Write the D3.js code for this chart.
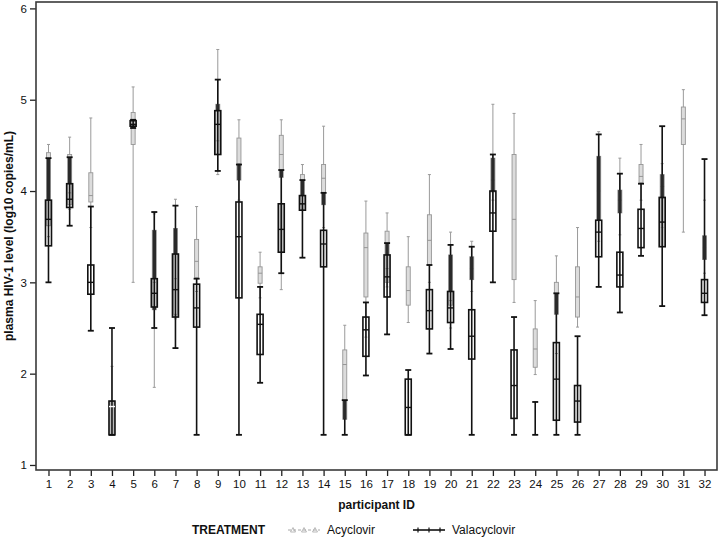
<!DOCTYPE html>
<html>
<head>
<meta charset="utf-8">
<script src="https://cdn.jsdelivr.net/npm/d3@7"></script>
<style>
  body { margin: 0; background: #fff; }
  svg { font-family: "Liberation Sans", Arial, sans-serif; }
</style>
</head>
<body>
<div class="chart"></div>
<script>
// participant ids
var ids = d3.range(1, 33);

// Acyclovir box stats (log10 copies/mL)
var acyMin = [3.5, 3.8, 3.6, 1.33, 3.0, 1.85, 2.6, 2.9, 4.18, 3.9, 2.83, 2.92, 3.8, 3.6, 1.5, 2.4,
              2.95, 2.56, 3.0, 2.5, 2.9, 3.9, 2.78, 1.99, 2.22, 2.51, 3.45, 3.52, 3.9, 3.6, 3.55, 3.1];
var acyQ1  = [3.62, 3.85, 3.88, 1.33, 4.51, 2.7, 2.65, 3.05, 4.4, 4.12, 2.99, 4.15, 3.85, 3.85, 1.5, 2.84,
              3.0, 2.75, 3.19, 2.75, 3.03, 3.99, 3.03, 2.07, 2.65, 2.62, 3.68, 3.76, 4.09, 3.92, 4.51, 3.25];
var acyMed = [4.0, 3.98, 3.95, 1.64, 4.73, 3.0, 3.04, 3.23, 4.55, 4.3, 3.1, 4.4, 3.95, 4.14, 2.1, 3.38,
              3.15, 2.91, 3.46, 2.8, 3.15, 4.12, 3.69, 2.27, 2.85, 2.84, 4.0, 3.9, 4.16, 4.05, 4.79, 3.38];
var acyQ3  = [4.42, 4.4, 4.2, 1.7, 4.86, 3.57, 3.59, 3.47, 4.95, 4.58, 3.17, 4.61, 4.18, 4.29, 2.26, 3.54,
              3.56, 3.17, 3.74, 3.3, 3.28, 4.36, 4.4, 2.49, 3.0, 3.17, 4.38, 4.01, 4.29, 4.18, 4.92, 3.51];
var acyMax = [4.51, 4.59, 4.8, 2.08, 5.14, 3.75, 3.91, 3.83, 5.55, 4.78, 3.33, 4.78, 4.29, 4.71, 2.53, 3.89,
              3.76, 3.5, 4.18, 3.55, 3.45, 4.95, 4.85, 2.8, 3.29, 3.6, 4.65, 4.36, 4.51, 4.3, 5.11, 3.9];

// Valacyclovir box stats (participant 31 has none)
var valMin = [3.0, 3.62, 2.47, 1.33, 4.69, 2.5, 2.28, 1.33, 4.22, 1.33, 1.9, 3.1, 3.27, 1.33, 1.33, 1.98,
              2.43, 1.33, 2.22, 2.27, 1.33, 3.0, 1.33, 1.33, 1.33, 1.33, 2.95, 2.67, 3.29, 2.74, null, 2.64];
var valQ1  = [3.4, 3.82, 2.87, 1.33, 4.71, 2.73, 2.62, 2.51, 4.4, 2.83, 2.21, 3.33, 3.79, 3.17, 1.33, 2.19,
              2.84, 1.33, 2.49, 2.56, 2.16, 3.56, 1.51, 1.33, 1.49, 1.47, 3.28, 2.95, 3.38, 3.39, null, 2.78];
var valMed = [3.69, 3.91, 3.0, 1.64, 4.73, 2.88, 2.92, 2.72, 4.73, 3.5, 2.54, 3.58, 3.86, 3.42, 1.33, 2.48,
              3.06, 1.63, 2.69, 2.72, 2.41, 3.76, 1.87, 1.33, 1.94, 1.7, 3.55, 3.08, 3.59, 3.66, null, 2.88];
var valQ3  = [3.9, 4.08, 3.19, 1.7, 4.77, 3.04, 3.31, 2.98, 4.88, 3.88, 2.65, 3.86, 3.95, 3.57, 1.33, 2.62,
              3.3, 1.94, 2.92, 2.9, 2.7, 4.0, 2.26, 1.33, 2.34, 1.87, 3.68, 3.33, 3.8, 3.93, null, 3.03];
var valMax = [4.36, 4.37, 3.83, 2.5, 4.78, 3.77, 3.84, 3.04, 5.22, 4.29, 2.95, 4.23, 4.12, 3.98, 1.71, 2.78,
              3.43, 2.04, 3.19, 3.41, 3.39, 4.4, 2.62, 1.69, 2.88, 2.41, 4.62, 4.19, 4.08, 4.71, null, 4.35];

// participants whose Valacyclovir box is shaded
var shadedIds = [4, 6, 7, 12, 13, 30];

var yTicks = [1, 2, 3, 4, 5, 6];
var treatments = ["Acyclovir", "Valacyclovir"];

var svgWidth = 720, svgHeight = 538;
var plot = {left: 36, right: 717, top: 2, bottom: 470};

var svg = d3.select(".chart").append("svg")
  .attr("width", svgWidth)
  .attr("height", svgHeight);

var x = d3.scalePoint().domain(ids).range([plot.left, plot.right]).padding(0.59);
var y = d3.scaleLinear().domain([0.945, 6.07]).range([plot.bottom, plot.top]);

function rows(mn, q1, md, q3, mx) {
  return ids.map(function(id, i) {
    return {id: id, min: mn[i], q1: q1[i], med: md[i], q3: q3[i], max: mx[i]};
  }).filter(function(d) { return d.min != null; });
}
var acy = rows(acyMin, acyQ1, acyMed, acyQ3, acyMax);
var val = rows(valMin, valQ1, valMed, valQ3, valMax);

var vw = 6, aw = 4;

// shaded Valacyclovir boxes
svg.append("g").selectAll("rect")
  .data(val.filter(function(d) { return shadedIds.indexOf(d.id) >= 0; }))
  .enter().append("rect")
  .attr("x", function(d) { return x(d.id) - vw / 2; })
  .attr("y", function(d) { return y(d.q3); })
  .attr("width", vw)
  .attr("height", function(d) { return Math.max(1, y(d.q1) - y(d.q3)); })
  .attr("fill", "#c4c4c4");

// Acyclovir: grey thin
var ga = svg.append("g");
ga.selectAll("line.wh").data(acy).enter().append("line")
  .attr("x1", function(d) { return x(d.id); }).attr("x2", function(d) { return x(d.id); })
  .attr("y1", function(d) { return y(d.min); }).attr("y2", function(d) { return y(d.max); })
  .attr("stroke", "#9a9a9a").attr("stroke-width", 1);
ga.selectAll("line.cap").data(acy.flatMap(function(d) { return [[d.id, d.min], [d.id, d.max]]; }))
  .enter().append("line")
  .attr("x1", function(d) { return x(d[0]) - 1.5; }).attr("x2", function(d) { return x(d[0]) + 1.5; })
  .attr("y1", function(d) { return y(d[1]); }).attr("y2", function(d) { return y(d[1]); })
  .attr("stroke", "#9a9a9a").attr("stroke-width", 1);
ga.selectAll("rect").data(acy).enter().append("rect")
  .attr("x", function(d) { return x(d.id) - aw / 2; })
  .attr("y", function(d) { return y(d.q3); })
  .attr("width", aw)
  .attr("height", function(d) { return Math.max(1, y(d.q1) - y(d.q3)); })
  .attr("fill", "#dcdcdc").attr("stroke", "#969696").attr("stroke-width", 0.9);
ga.selectAll("line.med").data(acy).enter().append("line")
  .attr("x1", function(d) { return x(d.id) - aw / 2; }).attr("x2", function(d) { return x(d.id) + aw / 2; })
  .attr("y1", function(d) { return y(d.med); }).attr("y2", function(d) { return y(d.med); })
  .attr("stroke", "#969696").attr("stroke-width", 1);

// Valacyclovir: black
var gv = svg.append("g");
gv.selectAll("line.wh").data(val).enter().append("line")
  .attr("x1", function(d) { return x(d.id); }).attr("x2", function(d) { return x(d.id); })
  .attr("y1", function(d) { return y(d.min); }).attr("y2", function(d) { return y(d.max); })
  .attr("stroke", "#111").attr("stroke-width", 1.6);

// where the whisker runs over the Acyclovir box it looks heavier
var overlaps = [];
val.forEach(function(d) {
  var a = acy.filter(function(e) { return e.id === d.id; })[0];
  if (!a) return;
  [[d.q3, d.max], [d.min, d.q1]].forEach(function(seg) {
    var lo = Math.max(seg[0], a.q1), hi = Math.min(seg[1], a.q3);
    if (hi > lo) overlaps.push({id: d.id, lo: lo, hi: hi});
  });
});
gv.selectAll("line.ov").data(overlaps).enter().append("line")
  .attr("x1", function(d) { return x(d.id); }).attr("x2", function(d) { return x(d.id); })
  .attr("y1", function(d) { return y(d.lo); }).attr("y2", function(d) { return y(d.hi); })
  .attr("stroke", "#2a2a2a").attr("stroke-width", 3.4);

gv.selectAll("line.cap").data(val.flatMap(function(d) { return [[d.id, d.min], [d.id, d.max]]; }))
  .enter().append("line")
  .attr("x1", function(d) { return x(d[0]) - 3; }).attr("x2", function(d) { return x(d[0]) + 3; })
  .attr("y1", function(d) { return y(d[1]); }).attr("y2", function(d) { return y(d[1]); })
  .attr("stroke", "#111").attr("stroke-width", 1.8);
gv.selectAll("rect").data(val.filter(function(d) { return d.q3 > d.q1; })).enter().append("rect")
  .attr("x", function(d) { return x(d.id) - vw / 2; })
  .attr("y", function(d) { return y(d.q3); })
  .attr("width", vw)
  .attr("height", function(d) { return y(d.q1) - y(d.q3); })
  .attr("fill", "none").attr("stroke", "#111").attr("stroke-width", 1.6);
gv.selectAll("line.med").data(val.filter(function(d) { return d.q3 > d.q1; })).enter().append("line")
  .attr("x1", function(d) { return x(d.id) - vw / 2; }).attr("x2", function(d) { return x(d.id) + vw / 2; })
  .attr("y1", function(d) { return y(d.med); }).attr("y2", function(d) { return y(d.med); })
  .attr("stroke", function(d) { return d.id === 4 ? "#fff" : "#111"; })
  .attr("stroke-width", 1.4);

// axes
var xAxis = svg.append("g")
  .attr("transform", "translate(0," + plot.bottom + ")")
  .call(d3.axisBottom(x).tickSize(6).tickSizeOuter(0).tickPadding(4));
var yAxis = svg.append("g")
  .attr("transform", "translate(" + plot.left + ",0)")
  .call(d3.axisLeft(y).tickValues(yTicks).tickFormat(d3.format("d"))
    .tickSize(6).tickSizeOuter(0).tickPadding(3));
[xAxis, yAxis].forEach(function(g) {
  g.select(".domain").remove();
  g.selectAll(".tick line").attr("stroke", "#222").attr("stroke-width", 1.3);
  g.selectAll(".tick text").attr("font-size", "11.5px").attr("fill", "#111")
    .attr("font-family", "Liberation Sans, Arial, sans-serif");
});

// frame
svg.append("rect")
  .attr("x", plot.left).attr("y", plot.top)
  .attr("width", plot.right - plot.left).attr("height", plot.bottom - plot.top)
  .attr("fill", "none").attr("stroke", "#3a3a3a").attr("stroke-width", 1.6);

// axis titles
svg.append("text")
  .attr("transform", "translate(13," + ((plot.top + plot.bottom) / 2) + ") rotate(-90)")
  .attr("text-anchor", "middle")
  .attr("font-size", "12px").attr("font-weight", "bold").attr("fill", "#111")
  .text("plasma HIV-1 level (log10 copies/mL)");
svg.append("text")
  .attr("x", (plot.left + plot.right) / 2).attr("y", 509)
  .attr("text-anchor", "middle")
  .attr("font-size", "12px").attr("font-weight", "bold").attr("fill", "#111")
  .text("participant ID");

// legend
var lg = svg.append("g");
lg.append("text").attr("x", 192).attr("y", 534)
  .attr("font-size", "12px").attr("font-weight", "bold").attr("fill", "#111")
  .text("TREATMENT");
var legendX = [288, 413];
treatments.forEach(function(t, i) {
  var x0 = legendX[i], grey = i === 0;
  var col = grey ? "#a8a8a8" : "#111";
  lg.append("line").attr("x1", x0).attr("x2", x0 + 32).attr("y1", 530).attr("y2", 530)
    .attr("stroke", col).attr("stroke-width", grey ? 1 : 1.6)
    .attr("stroke-dasharray", grey ? "3,2" : null);
  [0, 1, 2].forEach(function(k) {
    var cx = x0 + 5 + k * 11;
    if (grey) {
      lg.append("path").attr("d", "M" + (cx - 2.5) + ",532 L" + cx + ",527.5 L" + (cx + 2.5) + ",532 Z")
        .attr("fill", "none").attr("stroke", col).attr("stroke-width", 0.8);
    } else {
      lg.append("line").attr("x1", cx).attr("x2", cx).attr("y1", 527.5).attr("y2", 532.5)
        .attr("stroke", col).attr("stroke-width", 1.2);
    }
  });
  lg.append("text").attr("x", x0 + 39).attr("y", 534)
    .attr("font-size", "12px").attr("fill", "#111").text(t);
});
</script>
</body>
</html>
